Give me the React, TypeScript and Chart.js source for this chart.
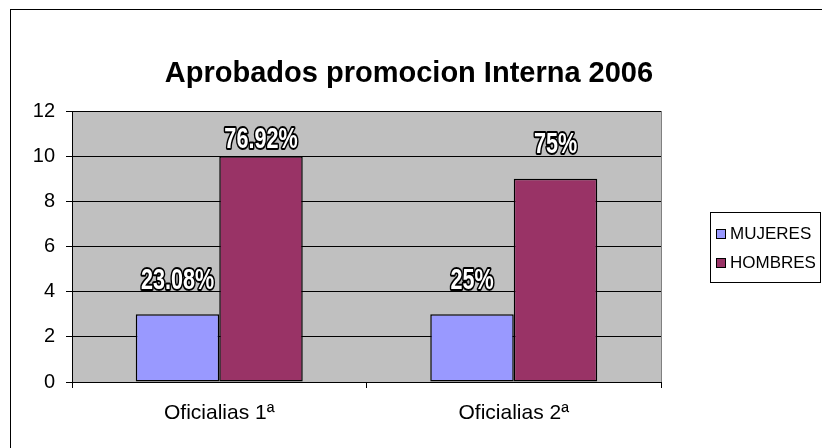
import React, { useEffect, useRef } from "react";
import { Chart, registerables } from "chart.js";

Chart.register(...registerables);

const titleText = "Aprobados promocion Interna 2006";
const categories = ["Oficialias 1ª", "Oficialias 2ª"];
const seriesNames = ["MUJERES", "HOMBRES"];
const mujeres = [3, 3];
const hombres = [10, 9];
const mujeresLabels = ["23.08%", "25%"];
const hombresLabels = ["76.92%", "75%"];
const yMin = 0;
const yMax = 12;
const yStep = 2;

const seriesColors = ["#9999FF", "#993366"];
const FONT = '"Liberation Sans", Arial, sans-serif';

const W = 822;
const H = 448;

const decorPlugin = {
  id: "decor",
  beforeDraw(chart: any) {
    const { ctx, chartArea } = chart;
    ctx.save();
    ctx.fillStyle = "#ffffff";
    ctx.fillRect(0, 0, W, H);
    ctx.strokeStyle = "#000";
    ctx.lineWidth = 1;
    ctx.strokeRect(10.5, 9.5, W + 20, H + 20);
    ctx.fillStyle = "#C0C0C0";
    ctx.fillRect(chartArea.left, chartArea.top, chartArea.right - chartArea.left, chartArea.bottom - chartArea.top);
    ctx.strokeStyle = "#808080";
    ctx.beginPath();
    ctx.moveTo(Math.round(chartArea.right) + 0.5, chartArea.top);
    ctx.lineTo(Math.round(chartArea.right) + 0.5, chartArea.bottom);
    ctx.stroke();
    ctx.restore();
  },
  afterDraw(chart: any) {
    const { ctx } = chart;
    ctx.save();
    ctx.fillStyle = "#000";
    ctx.font = `bold 29px ${FONT}`;
    ctx.textAlign = "center";
    ctx.textBaseline = "middle";
    ctx.fillText(titleText, 409, 74);

    const lx = 710, ly = 212, lw = 110, lh = 70;
    ctx.strokeStyle = "#000";
    ctx.lineWidth = 1;
    ctx.strokeRect(lx + 0.5, ly + 0.5, lw, lh);
    ctx.font = `17px ${FONT}`;
    ctx.textAlign = "left";
    seriesNames.forEach((name, i) => {
      const cy = ly + 21 + i * 29;
      ctx.fillStyle = seriesColors[i];
      ctx.fillRect(lx + 6, cy - 4, 9, 9);
      ctx.strokeStyle = "#000";
      ctx.strokeRect(lx + 6.5, cy - 3.5, 9, 9);
      ctx.fillStyle = "#000";
      ctx.fillText(name, lx + 20, cy + 1);
    });
    ctx.restore();
  },
  afterDatasetsDraw(chart: any) {
    const { ctx, chartArea } = chart;
    const sets = [mujeresLabels, hombresLabels];
    sets.forEach((labels, di) => {
      const meta = chart.getDatasetMeta(di);
      meta.data.forEach((bar: any, i: number) => {
        const cx = bar.x;
        const cy = Math.max(bar.y - 34, chartArea.top + 29);
        ctx.save();
        ctx.translate(cx, cy);
        ctx.scale(0.72, 1);
        ctx.font = `bold 30px ${FONT}`;
        ctx.textAlign = "center";
        ctx.textBaseline = "middle";
        ctx.lineJoin = "round";
        ctx.lineWidth = 4;
        ctx.strokeStyle = "#000";
        ctx.strokeText(labels[i], 0, 0);
        ctx.fillStyle = "#fff";
        ctx.fillText(labels[i], 0, 0);
        ctx.restore();
      });
    });
  },
};

export default function App() {
  const ref = useRef<HTMLCanvasElement | null>(null);
  useEffect(() => {
    if (!ref.current) return;
    const chart = new Chart(ref.current, {
      type: "bar",
      data: {
        labels: categories,
        datasets: [
          {
            label: seriesNames[0],
            data: mujeres,
            backgroundColor: seriesColors[0],
            borderColor: "#000",
            borderWidth: 1.5,
            borderSkipped: false,
          },
          {
            label: seriesNames[1],
            data: hombres,
            backgroundColor: seriesColors[1],
            borderColor: "#000",
            borderWidth: 1.5,
            borderSkipped: false,
          },
        ],
      },
      options: {
        responsive: false,
        animation: false,
        devicePixelRatio: 1,
        layout: { padding: { left: 0, top: 111, right: W - 661, bottom: 0 } },
        datasets: { bar: { categoryPercentage: 0.567, barPercentage: 1 } },
        plugins: {
          legend: { display: false },
          title: { display: false },
          tooltip: { enabled: false },
        },
        scales: {
          x: {
            grid: { offset: true, drawOnChartArea: false, color: "#000", tickLength: 6 },
            border: { display: true, color: "#000", width: 1 },
            ticks: { color: "#000", font: { family: FONT, size: 21 }, padding: 13 },
            afterFit: (s: any) => { s.height = H - 382; },
          },
          y: {
            min: yMin,
            max: yMax,
            grid: { color: "#000", tickLength: 6 },
            border: { display: true, color: "#000", width: 1 },
            ticks: { stepSize: yStep, color: "#000", font: { family: FONT, size: 20 }, padding: 11 },
            afterFit: (s: any) => { s.width = 72; },
          },
        },
      },
      plugins: [decorPlugin],
    });
    return () => chart.destroy();
  }, []);
  return (
    <div style={{ position: "fixed", left: 0, top: 0, width: W, height: H }}>
      <canvas ref={ref} width={W} height={H} style={{ display: "block" }} />
    </div>
  );
}
